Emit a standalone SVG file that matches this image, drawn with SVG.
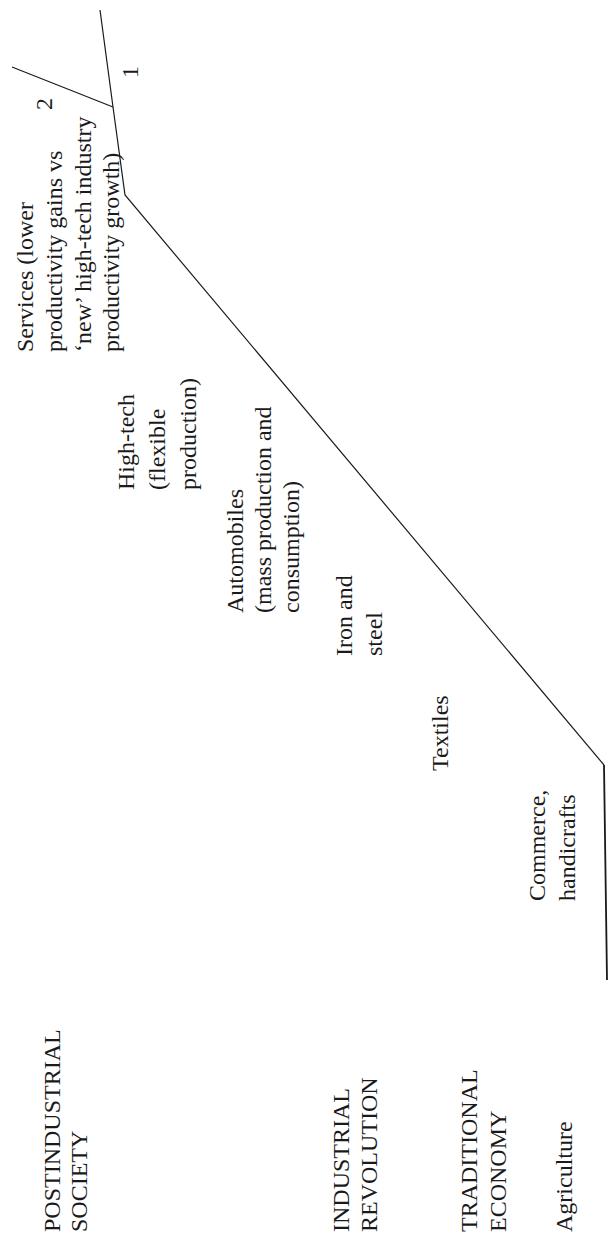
<svg xmlns="http://www.w3.org/2000/svg" width="608" height="1239" viewBox="0 0 608 1239">
<style>
  text { font-family: "Liberation Serif", "Times New Roman", serif; font-size: 24px; fill: #1a1a1a; }
  .ln { fill: none; stroke: #1a1a1a; stroke-width: 1.2; }
</style>
<rect width="608" height="1239" fill="#ffffff"/>
<g id="connectors">
  <polyline class="ln" points="100,10 113,107 125,195 604,765"/>
  <polyline class="ln" points="604,765 607,980" style="stroke-width:1.8"/>
  <line class="ln" x1="12" y1="67" x2="113" y2="107"/>
</g>
<g id="label-1" transform="translate(138,72) rotate(-90)"><text text-anchor="middle">1</text></g>
<g id="label-2" transform="translate(52,104) rotate(-90)"><text text-anchor="middle">2</text></g>
<g id="services" transform="translate(33,352) rotate(-90)"><text><tspan x="0" y="0">Services (lower</tspan><tspan x="0" y="29">productivity gains vs</tspan><tspan x="0" y="58">‘new’ high-tech industry</tspan><tspan x="0" y="86">productivity growth)</tspan></text></g>
<g id="hightech" transform="translate(134,490) rotate(-90)"><text><tspan x="0" y="0">High-tech</tspan><tspan x="0" y="31">(flexible</tspan><tspan x="0" y="62">production)</tspan></text></g>
<g id="automobiles" transform="translate(243,613) rotate(-90)"><text><tspan x="0" y="0">Automobiles</tspan><tspan x="0" y="28">(mass production and</tspan><tspan x="0" y="56">consumption)</tspan></text></g>
<g id="iron" transform="translate(352,656) rotate(-90)"><text><tspan x="0" y="0">Iron and</tspan><tspan x="0" y="30">steel</tspan></text></g>
<g id="textiles" transform="translate(448,771) rotate(-90)"><text>Textiles</text></g>
<g id="commerce" transform="translate(545,901) rotate(-90)"><text><tspan x="0" y="0">Commerce,</tspan><tspan x="0" y="30">handicrafts</tspan></text></g>
<g id="postindustrial" transform="translate(60,1232) rotate(-90)"><text><tspan x="0" y="0">POSTINDUSTRIAL</tspan><tspan x="0" y="27">SOCIETY</tspan></text></g>
<g id="industrial" transform="translate(349,1232) rotate(-90)"><text><tspan x="0" y="0">INDUSTRIAL</tspan><tspan x="0" y="28">REVOLUTION</tspan></text></g>
<g id="traditional" transform="translate(477,1232) rotate(-90)"><text><tspan x="0" y="0">TRADITIONAL</tspan><tspan x="0" y="29">ECONOMY</tspan></text></g>
<g id="agriculture" transform="translate(572,1232) rotate(-90)"><text>Agriculture</text></g>
</svg>
